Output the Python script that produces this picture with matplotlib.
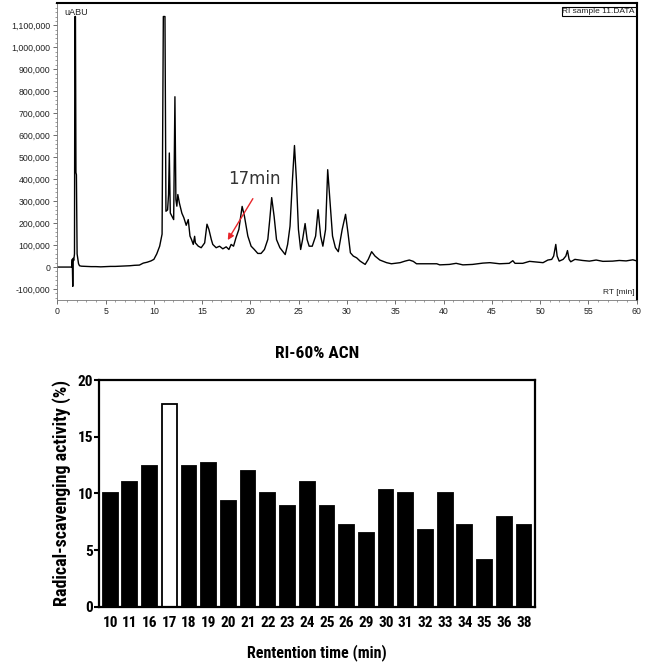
import numpy as np
import matplotlib
matplotlib.use('Agg')
import matplotlib.pyplot as plt
from matplotlib.ticker import AutoMinorLocator, FuncFormatter, MultipleLocator

# 色谱图数据 (RT, 强度)
rt = [0.0, 1.5, 1.55, 1.6, 1.65, 1.7, 1.78, 1.82, 1.88, 1.93, 1.98, 2.05, 2.2, 2.3,
      2.5, 3.0, 3.5, 4.0, 4.5, 5.0, 5.5, 6.0, 6.5, 7.0, 7.5, 8.0, 8.5, 8.9, 9.3, 9.7,
      10.0, 10.3, 10.6, 10.85, 10.98, 11.15, 11.25, 11.42, 11.52, 11.6, 11.7, 11.87,
      12.05, 12.18, 12.28, 12.38, 12.48, 12.65, 12.9, 13.1, 13.35, 13.56, 13.74, 13.9,
      14.08, 14.22, 14.3, 14.6, 14.9, 15.26, 15.5, 15.7, 15.95, 16.1, 16.45, 16.8,
      17.14, 17.49, 17.77, 18.0, 18.25, 18.5, 18.8, 19.14, 19.38, 19.73, 20.07, 20.4,
      20.76, 21.1, 21.45, 21.8, 22.0, 22.2, 22.45, 22.7, 23.05, 23.6, 23.85, 24.1,
      24.35, 24.56, 24.76, 24.97, 25.2, 25.4, 25.66, 25.87, 26.08, 26.4, 26.75, 27.0,
      27.27, 27.5, 27.78, 28.0, 28.2, 28.5, 28.8, 29.1, 29.5, 29.85, 30.1, 30.35,
      30.65, 31.0, 31.36, 31.7, 31.88, 32.2, 32.55, 32.9, 33.4, 34.1, 34.6, 35.5,
      36.0, 36.45, 36.86, 37.2, 39.3, 39.6, 40.6, 41.3, 42.0, 43.0, 44.07, 44.8,
      45.8, 46.8, 47.17, 47.4, 48.2, 48.9, 49.6, 50.3, 50.8, 51.2, 51.4, 51.62,
      51.76, 51.97, 52.38, 52.66, 52.83, 53.0, 53.17, 53.6, 54.4, 55.1, 55.8, 56.5,
      57.5, 58.2, 58.9, 59.6, 60.0]
abu = [0, 0, 35000, -88000, 40000, 30000, 60000, 1140000, 1140000, 430000, 420000,
       60000, 15000, 6000,
       4000, 3000, 2000, 2000, 1000, 2000, 3000, 3000, 4000, 5000, 6000, 8000, 9000,
       18000, 22000, 28000, 35000, 60000, 95000, 150000, 1140000, 1140000, 254000,
       260000, 330000, 519000, 246000, 231000,
       216000, 775000, 307000, 277000, 330000, 290000, 245000, 225000, 190000, 216000,
       141000, 125000,
       103000, 140000, 110000, 95000, 88000, 110000, 195000, 171000, 125000, 103000,
       88000, 95000,
       83000, 92000, 80000, 103000, 95000, 133000, 171000, 276000, 231000, 141000,
       95000, 80000,
       62000, 62000, 80000, 126000, 216000, 316000, 231000, 125000, 88000, 57000,
       103000, 186000,
       397000, 553000, 397000, 171000, 80000, 125000, 198000, 125000, 95000, 95000,
       141000, 261000,
       141000, 95000, 171000, 443000, 322000, 141000, 88000, 70000, 171000, 240000,
       156000, 65000,
       50000, 42000, 27000, 17000, 12000, 35000, 70000, 50000, 32000, 20000, 15000,
       20000,
       27000, 32000, 26000, 15000, 15000, 10000, 12000, 17000, 10000, 12000, 18000,
       20000,
       15000, 17000, 29000, 17000, 17000, 26000, 23000, 20000, 32000, 35000, 50000,
       103000,
       50000, 27000, 35000, 50000, 75000, 35000, 24000, 35000, 30000, 27000, 32000,
       26000,
       27000, 30000, 28000, 33000, 28000]

# 柱状图数据
times = ['10', '11', '16', '17', '18', '19', '20', '21', '22', '23', '24', '25',
         '26', '29', '30', '31', '32', '33', '34', '35', '36', '38']
activity = [10.0, 11.0, 12.4, 17.9, 12.4, 12.7, 9.3, 12.0, 10.0, 8.9, 11.0, 8.9,
            7.2, 6.5, 10.3, 10.0, 6.8, 10.0, 7.2, 4.1, 7.9, 7.2]
highlight = '17'

fig = plt.figure(figsize=(6.71, 6.66), dpi=100)

# 上图：色谱图
ax1 = fig.add_axes([0.0854, 0.5495, 0.8635, 0.4455])
ax1.plot(rt, abu, color='black', linewidth=1.0)
ax1.set_xlim(0, 60)
ax1.set_ylim(-150000, 1200000)
ax1.set_yticks(np.arange(-100000, 1100001, 100000))
ax1.yaxis.set_major_formatter(FuncFormatter(lambda v, p: f'{int(v):,}'))
ax1.xaxis.set_major_locator(MultipleLocator(5))
ax1.xaxis.set_minor_locator(AutoMinorLocator(5))
ax1.yaxis.set_minor_locator(AutoMinorLocator(5))
ax1.tick_params(axis='both', which='major', labelsize=6.3, length=3, width=0.6,
                colors='#555555', labelcolor='#222222', pad=2)
ax1.tick_params(axis='both', which='minor', length=1.5, width=0.5, colors='#777777')
for lab in ax1.get_xticklabels() + ax1.get_yticklabels():
    lab.set_fontfamily('Liberation Sans')
ax1.spines['left'].set_color('#777777')
ax1.spines['bottom'].set_color('#777777')
ax1.spines['left'].set_linewidth(0.6)
ax1.spines['bottom'].set_linewidth(0.6)
ax1.spines['top'].set_linewidth(1.5)
ax1.spines['right'].set_linewidth(1.5)

ax1.text(0.013, 0.985, 'uABU', transform=ax1.transAxes, ha='left', va='top',
         fontsize=6.5, family='Liberation Sans', color='#222222')
ax1.text(0.997, 0.985, 'RI sample 11.DATA', transform=ax1.transAxes, ha='right',
         va='top', fontsize=6, family='Liberation Sans', color='#222222',
         bbox=dict(boxstyle='square,pad=0.1', facecolor='white', edgecolor='black',
                   linewidth=0.8))
ax1.text(0.997, 0.012, 'RT [min]', transform=ax1.transAxes, ha='right', va='bottom',
         fontsize=6, family='Liberation Sans', color='#222222')
ax1.annotate('', xy=(17.5, 112000), xytext=(20.4, 322000),
             arrowprops=dict(arrowstyle='-|>', color='#e8262b', lw=1.0,
                             mutation_scale=9))
ax1.text(20.4, 380000, '17min', ha='center', va='baseline', fontsize=12,
         family='DejaVu Sans', color='#333333')

# 下图：柱状图
ax2 = fig.add_axes([0.148, 0.089, 0.649, 0.3404])
x = np.arange(len(times))
colors = ['white' if t == highlight else 'black' for t in times]
ax2.bar(x, activity, width=0.75, color=colors, edgecolor='black', linewidth=1.3)
ax2.set_xlim(-0.55, len(times) - 0.45)
ax2.set_ylim(0, 20)
ax2.set_yticks([0, 5, 10, 15, 20])
ax2.set_xticks(x)
ax2.set_xticklabels(times)
fam = ['Roboto Condensed', 'Liberation Sans']
for lab in ax2.get_xticklabels() + ax2.get_yticklabels():
    lab.set_fontfamily(fam)
    lab.set_fontweight('bold')
    lab.set_fontsize(11)
ax2.tick_params(axis='x', length=0, pad=7)
ax2.tick_params(axis='y', length=3.5, width=1.5, pad=1)
for sp in ax2.spines.values():
    sp.set_linewidth(1.6)
ax2.set_title('RI-60% ACN', fontsize=12.5, fontweight='bold', family=fam, pad=16)
ax2.set_xlabel('Rentention time (min)', fontsize=11.5, fontweight='bold', family=fam,
               labelpad=10)
ax2.set_ylabel('Radical-scavenging activity (%)', fontsize=13, fontweight='bold',
               family=fam, labelpad=5)

fig.savefig('out.png', dpi=100)
